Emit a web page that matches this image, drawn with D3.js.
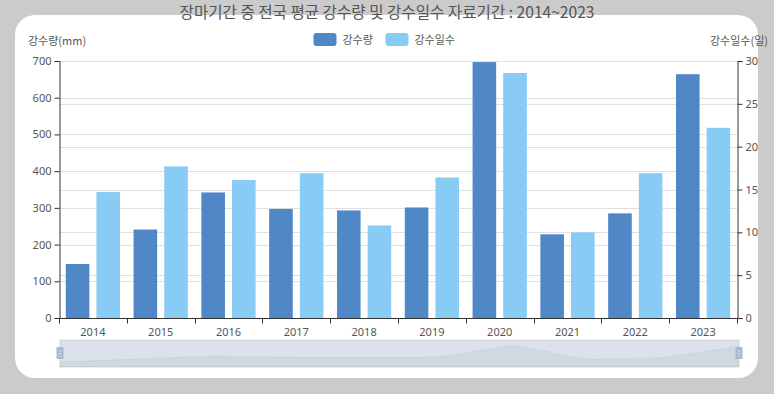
<!DOCTYPE html>
<html><head><meta charset="utf-8">
<script src="https://cdn.jsdelivr.net/npm/d3@7/dist/d3.min.js"></script>
<style>html,body{margin:0;padding:0;background:#cbcbcb;overflow:hidden}svg{display:block}</style>
</head><body>
<svg id="c" width="774" height="394"></svg>
<script>
const years = ["2014","2015","2016","2017","2018","2019","2020","2021","2022","2023"];
const rainfall = [147, 241, 342, 297, 293, 301, 697, 228, 285, 664];
const rainDays = [14.7, 17.7, 16.1, 16.9, 10.8, 16.4, 28.6, 10.0, 16.9, 22.2];
const leftTicks = [0, 100, 200, 300, 400, 500, 600, 700];
const rightTicks = [0, 5, 10, 15, 20, 25, 30];
const seriesNames = ["강수량", "강수일수"];
const titleText = "장마기간 중 전국 평균 강수량 및 강수일수 자료기간 : 2014~2023";
const leftAxisName = "강수량(mm)";
const rightAxisName = "강수일수(일)";

const colors = ["#5087c7", "#88cbf5"];
const FONT = "'Noto Sans CJK KR','Noto Sans',sans-serif";
const NUMFONT = "'Noto Sans','Noto Sans CJK KR',sans-serif";

const svg = d3.select("#c");
const L = 59, R = 737, T = 61, B = 318;

// panel
svg.append("rect").attr("x", 15).attr("y", 15).attr("width", 743).attr("height", 363)
  .attr("rx", 20).attr("ry", 20).attr("fill", "#ffffff");

// title
svg.append("text").attr("x", 387).attr("y", 17.5).attr("text-anchor", "middle")
  .attr("font-family", FONT).attr("font-size", 15.6).attr("fill", "#555")
  .text(titleText);

const x = d3.scaleBand().domain(years).range([L, R]).paddingInner(0).paddingOuter(0);
const yL = d3.scaleLinear().domain([0, 700]).range([B, T]);
const yR = d3.scaleLinear().domain([0, 30]).range([B, T]);

// gridlines
const grid = svg.append("g").attr("stroke", "#e0e0e0").attr("stroke-width", 1);
leftTicks.forEach(t => grid.append("line").attr("x1", L).attr("x2", R)
  .attr("y1", Math.round(yL(t)) + 0.5).attr("y2", Math.round(yL(t)) + 0.5));
rightTicks.forEach(t => grid.append("line").attr("x1", L).attr("x2", R)
  .attr("y1", Math.round(yR(t)) + 0.5).attr("y2", Math.round(yR(t)) + 0.5));

// bars (category gap 20%, bar gap 30%)
const bw = x.bandwidth();
const catGap = bw * 0.2;
const barW = (bw - catGap) / 2.3;
const barGap = barW * 0.3;
const gBars = svg.append("g");
years.forEach((yr, i) => {
  const x0 = x(yr) + catGap / 2;
  gBars.append("rect").attr("x", x0).attr("width", barW)
    .attr("y", yL(rainfall[i])).attr("height", B - yL(rainfall[i])).attr("fill", colors[0]);
  gBars.append("rect").attr("x", x0 + barW + barGap).attr("width", barW)
    .attr("y", yR(rainDays[i])).attr("height", B - yR(rainDays[i])).attr("fill", colors[1]);
});

// axes
function styleAxis(g) {
  g.selectAll("path").attr("stroke", "#333");
  g.selectAll("line").attr("stroke", "#333");
  g.selectAll("text").attr("fill", "#555").attr("font-family", NUMFONT).attr("font-size", 11);
}
const axL = svg.append("g").attr("transform", `translate(${L + 0.5},0)`)
  .call(d3.axisLeft(yL).tickValues(leftTicks).tickSizeOuter(0).tickSize(5).tickPadding(3));
styleAxis(axL);
const axR = svg.append("g").attr("transform", `translate(${R + 0.5},0)`)
  .call(d3.axisRight(yR).tickValues(rightTicks).tickSizeOuter(0).tickSize(5).tickPadding(3));
styleAxis(axR);
const axX = svg.append("g").attr("transform", `translate(0,${B + 0.5})`)
  .call(d3.axisBottom(x).tickSize(0).tickPadding(10));
styleAxis(axX);
axX.select("path").attr("d", `M${L},0H${R}`);
const bounds = years.map(y => x(y)).concat([R]);
axX.selectAll("line.bt").data(bounds).enter().append("line").attr("class", "bt")
  .attr("x1", d => Math.round(d) + 0.5).attr("x2", d => Math.round(d) + 0.5)
  .attr("y1", 0).attr("y2", 5).attr("stroke", "#333");

// axis names
svg.append("text").attr("x", 28).attr("y", 45).attr("font-family", FONT).attr("font-size", 11)
  .attr("fill", "#555").text(leftAxisName);
svg.append("text").attr("x", 768).attr("y", 45).attr("text-anchor", "end").attr("font-family", FONT)
  .attr("font-size", 11).attr("fill", "#555").text(rightAxisName);

// legend
const legX = [313.5, 385.5];
seriesNames.forEach((n, i) => {
  svg.append("rect").attr("x", legX[i]).attr("y", 33).attr("width", 23).attr("height", 13)
    .attr("rx", 3).attr("fill", colors[i]);
  svg.append("text").attr("x", legX[i] + 29).attr("y", 43.5).attr("font-family", FONT)
    .attr("font-size", 11).attr("fill", "#555").text(n);
});

// data zoom slider
const SX0 = 60, SX1 = 739, SY0 = 340, SY1 = 367;
svg.append("rect").attr("x", SX0).attr("y", SY0).attr("width", SX1 - SX0).attr("height", SY1 - SY0)
  .attr("fill", "#ffffff").attr("stroke", "#dddddd");
const ext = d3.extent(rainfall);
const off = (ext[1] - ext[0]) * 0.3;
const sx = d3.scaleLinear().domain([0, years.length - 1]).range([SX0, SX1]);
const sy = d3.scaleLinear().domain([ext[0] - off, ext[1] + off]).range([SY1, SY0]);
const area = d3.area().x((d, i) => sx(i)).y0(SY1).y1(d => sy(d));
const line = d3.line().x((d, i) => sx(i)).y(d => sy(d));
svg.append("path").attr("d", area(rainfall)).attr("fill", "rgba(47,69,84,0.09)");
svg.append("path").attr("d", line(rainfall)).attr("fill", "none").attr("stroke", "rgba(47,69,84,0.15)").attr("stroke-width", 0.5);
svg.append("rect").attr("x", SX0).attr("y", SY0).attr("width", SX1 - SX0).attr("height", SY1 - SY0)
  .attr("fill", "rgba(167,183,204,0.4)");
[SX0, SX1].forEach(hx => {
  svg.append("rect").attr("x", hx - 3.5).attr("y", 347).attr("width", 7).attr("height", 12)
    .attr("rx", 1).attr("fill", "#a7b7cc");
  [351, 353.5, 356].forEach(ly => svg.append("line").attr("x1", hx - 1.5).attr("x2", hx + 1.5)
    .attr("y1", ly).attr("y2", ly).attr("stroke", "#e6ebf2").attr("stroke-width", 0.8));
});
</script>
</body></html>
